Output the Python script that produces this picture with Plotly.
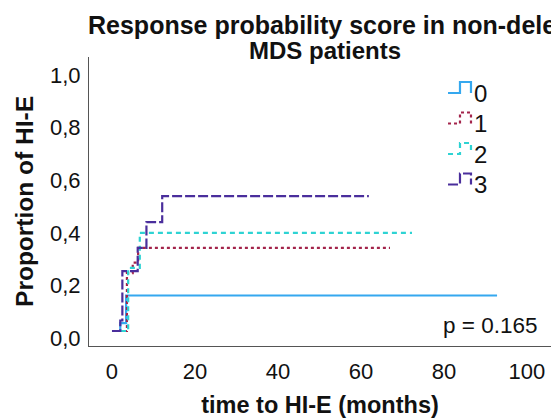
import plotly.graph_objects as go

# ---- data ----
groups = ["0", "1", "2", "3"]
t0 = [0, 2.0, 3.4, 92.8]
y0 = [0, 0.03, 0.135, 0.135]
t1 = [0, 3.6, 5.0, 6.3, 67.0]
y1 = [0, 0.22, 0.26, 0.316, 0.316]
t2 = [0, 3.9, 6.7, 72.3]
y2 = [0, 0.24, 0.373, 0.373]
t3 = [0, 2.0, 2.5, 6.2, 8.3, 12.1, 61.9]
y3 = [0, 0.04, 0.228, 0.316, 0.414, 0.513, 0.513]
x_ticks = [0, 20, 40, 60, 80, 100]
y_ticks = [0, 0.2, 0.4, 0.6, 0.8, 1.0]
y_tick_labels = ["0,0", "0,2", "0,4", "0,6", "0,8", "1,0"]
p_text = "p = 0.165"
title_line1 = "Response probability score in non-deleted 5q"
title_line2 = "MDS patients"

colors = ["#35a8ef", "#a3244b", "#2ed3d3", "#4a2e9c"]
dashes = ["solid", "dot", "5px,4px", "10px,3px"]
series = [(t0, y0), (t1, y1), (t2, y2), (t3, y3)]

FONT = "Liberation Sans, Arial, sans-serif"
W, H = 551, 418
L, R, T, B = 89, 0, 57, 72
PW, PH = W - L - R, H - T - B


def px(x):
    return (x - L) / PW


def py(y):
    return (H - B - y) / PH


fig = go.Figure()
for name, (t, y), c, d in zip(groups, series, colors, dashes):
    fig.add_trace(go.Scatter(x=t, y=y, mode="lines", name=name,
                             line=dict(color=c, dash=d, width=2.2, shape="hv"),
                             showlegend=False))

# custom step-shaped legend
for i, (name, c, d) in enumerate(zip(groups, colors, dashes)):
    yb = 93 + i * 30.5
    ytop = yb - 11
    pts = [(448, yb), (460, yb), (460, ytop), (471, ytop), (471, yb)]
    path = "M " + " L ".join(f"{px(a):.4f},{py(b):.4f}" for a, b in pts)
    fig.add_shape(type="path", path=path, xref="paper", yref="paper",
                  line=dict(color=c, width=2.2, dash=d))
    fig.add_annotation(text=name, x=px(472), y=py(yb), xref="paper", yref="paper",
                       xanchor="left", yanchor="middle", showarrow=False,
                       font=dict(family=FONT, size=24, color="#111"))

# title (figure is cropped on the right in the reference)
fig.add_annotation(text=f"<b>{title_line1}</b>", x=px(86), y=py(25),
                   xref="paper", yref="paper", xanchor="left", yanchor="middle",
                   showarrow=False, font=dict(family=FONT, size=25, color="#111"))
fig.add_annotation(text=f"<b>{title_line2}</b>", x=px(325), y=py(51),
                   xref="paper", yref="paper", xanchor="center", yanchor="middle",
                   showarrow=False, font=dict(family=FONT, size=24, color="#111"))

fig.add_annotation(text=p_text, x=px(539), y=py(325), xref="paper", yref="paper",
                   xanchor="right", yanchor="middle", showarrow=False,
                   font=dict(family=FONT, size=22.5, color="#111"))

fig.update_layout(
    width=W, height=H,
    margin=dict(l=L, r=R, t=T, b=B),
    paper_bgcolor="white", plot_bgcolor="white",
    font=dict(family=FONT, size=22, color="#111"),
    xaxis=dict(range=[-5.54, 105.8], tickvals=x_ticks, showgrid=False, zeroline=False,
               showline=True, linecolor="#555", linewidth=1, ticks="",
               tickfont=dict(size=22), ticklabelstandoff=6,
               title=dict(text="<b>time to HI-E (months)</b>", standoff=14,
                          font=dict(size=23.5))),
    yaxis=dict(range=[-0.057, 1.042], tickvals=y_ticks, ticktext=y_tick_labels,
               showgrid=False, zeroline=False, showline=True, linecolor="#555",
               linewidth=1, ticks="", tickfont=dict(size=22), ticklabelshift=7,
               ticklabelstandoff=3,
               title=dict(text="<b>Proportion of HI-E</b>", standoff=9,
                          font=dict(size=24.5))),
)

fig.write_html("out.html")
